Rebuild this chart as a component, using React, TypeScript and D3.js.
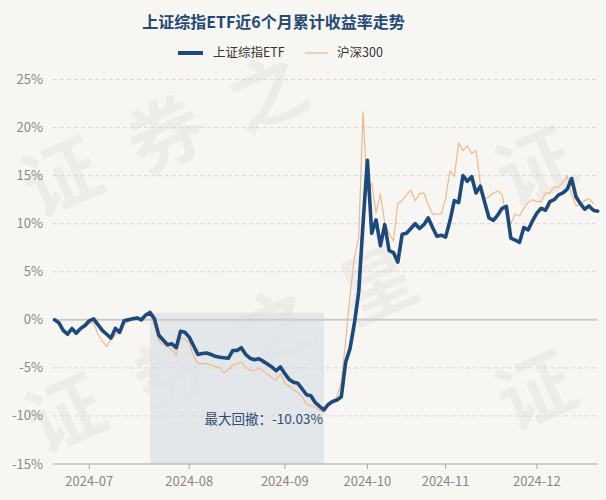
import React from 'react';
import * as d3 from 'd3';

const W = 606;
const H = 500;
const title = '上证综指ETF近6个月累计收益率走势';
const seriesNames = ['上证综指ETF', '沪深300'];
const yTicks = [25, 20, 15, 10, 5, 0, -5, -10, -15];
const monthLabels = ['2024-07', '2024-08', '2024-09', '2024-10', '2024-11', '2024-12'];
const startDate = '2024-06-19';
const endDate = '2024-12-20';
const holidays = ['2024-09-16', '2024-09-17', '2024-10-01', '2024-10-02', '2024-10-03', '2024-10-04', '2024-10-07'];
const drawdownLabel = '最大回撤：';
const watermarkChars = ['证', '券', '之', '星'];

// 上证综指ETF cumulative return (%)
const etf = [
  0.0, -0.3, -1.1, -1.5, -0.9, -1.4, -0.9, -0.6, -0.1, 0.1,
  -0.5, -1.1, -1.5, -1.9, -0.9, -1.3, -0.1, 0.0, 0.1, 0.2,
  0.0, 0.5, 0.75, 0.1, -1.6, -2.1, -2.6, -2.5, -2.9, -1.2,
  -1.3, -1.8, -2.7, -3.6, -3.5, -3.45, -3.6, -3.8, -3.9, -3.95,
  -4.0, -3.2, -3.2, -2.9, -3.6, -4.0, -4.15, -4.05, -4.3, -4.6,
  -4.9, -5.3, -4.9, -5.6, -6.2, -6.5, -6.6, -7.2, -7.8, -7.9,
  -8.6, -9.0, -9.36, -8.8, -8.5, -8.35, -8.0, -4.4, -3.0, -0.4,
  2.9, 10.0, 16.6, 9.0, 10.4, 7.7, 9.9, 7.2, 7.0, 6.0,
  8.9, 9.0, 9.5, 10.0, 9.5, 9.9, 10.6, 9.6, 8.7, 8.8,
  8.6, 10.3, 12.4, 12.2, 15.0, 14.4, 14.9, 13.2, 13.9, 12.2,
  10.6, 10.35, 10.9, 11.6, 11.8, 8.5, 8.3, 8.05, 9.6, 9.35,
  10.3, 11.1, 11.6, 11.4, 12.3, 12.5, 13.0, 13.2, 13.6, 14.7,
  12.8, 12.1, 11.5, 11.85, 11.4, 11.3,
];

// 沪深300 cumulative return (%)
const hs300 = [
  0.0, -0.5, -1.2, -1.3, -1.0, -1.3, -0.9, -0.8, -0.4, -0.3,
  -1.5, -2.2, -2.8, -2.0, -1.6, -1.1, -0.5, -0.2, 0.0, 0.2,
  0.1, 0.6, 1.0, -0.6, -2.1, -2.6, -2.8, -3.1, -3.7, -1.9,
  -2.0, -2.4, -3.8, -4.5, -4.55, -4.55, -4.7, -4.85, -5.0, -5.5,
  -5.2, -4.7, -4.55, -4.4, -4.9, -5.3, -5.3, -5.0, -5.3, -5.65,
  -6.0, -6.3, -5.6, -6.6, -6.9, -7.3, -7.55, -8.0, -8.8, -8.95,
  -9.1, -9.4, -9.6, -8.7, -8.6, -8.0, -6.5, -2.2, 2.5, 6.5,
  8.5, 21.6, 13.3, 14.2, 11.1, 13.1, 10.0, 9.0, 8.2, 12.1,
  12.4, 13.0, 13.5, 12.4, 13.1, 13.2, 12.0, 11.0, 11.0, 11.0,
  12.6, 15.5, 14.9, 18.4, 17.6, 18.1, 17.3, 17.6, 14.1, 12.6,
  12.8, 13.2, 13.4, 13.0, 10.7, 10.0, 11.0, 10.8, 11.6, 12.2,
  12.5, 12.3, 12.3, 13.2, 13.2, 13.8, 13.8, 14.3, 15.0, 13.0,
  11.9, 11.9, 12.4, 12.6, 12.1,
];

function tradingDays(): string[] {
  const out: string[] = [];
  const fmt = d3.utcFormat('%Y-%m-%d');
  const end = new Date(endDate + 'T00:00:00Z').getTime();
  for (let t = new Date(startDate + 'T00:00:00Z').getTime(); t <= end; t += 86400000) {
    const d = new Date(t);
    const wd = d.getUTCDay();
    const s = fmt(d);
    if (wd === 0 || wd === 6 || holidays.includes(s)) continue;
    out.push(s);
  }
  return out;
}

const FONT = '"Noto Sans CJK SC", "Noto Sans", sans-serif';

// watermark glyph placements: [char index, cx, cy]
const wmPlaces: [number, number, number][] = [
  [0, 62, 178],
  [1, 166, 136],
  [2, 268, 94],
  [0, 66, 415],
  [1, 172, 372],
  [2, 276, 328],
  [3, 378, 286],
  [0, 536, 168],
  [0, 536, 392],
];

export default function App() {
  const dates = tradingDays();
  const left = 54.5;
  const right = 597.7;
  const top = 79.5;
  const bottom = 464;
  const x = d3.scalePoint<string>().domain(dates).range([left, right]);
  const y = d3.scaleLinear().domain([-15, 25]).range([bottom, top]);

  const lineGen = d3
    .line<number>()
    .x((_, i) => x(dates[i]) as number)
    .y((d) => y(d));

  // max drawdown of ETF
  let peakI = 0;
  let best = 0;
  let bi = 0;
  let bj = 0;
  for (let j = 0; j < etf.length; j++) {
    if (etf[j] > etf[peakI]) peakI = j;
    const dd = (1 + etf[j] / 100) / (1 + etf[peakI] / 100) - 1;
    if (dd < best) {
      best = dd;
      bi = peakI;
      bj = j;
    }
  }
  const ddText = drawdownLabel + (best * 100).toFixed(2) + '%';
  const x0 = x(dates[bi]) as number;
  const x1 = x(dates[bj]) as number;

  const monthTicks = monthLabels.map((m) => {
    const d = dates.find((s) => s.startsWith(m)) as string;
    return { label: m, x: x(d) as number };
  });

  return (
    <svg
      width={W}
      height={H}
      style={{ position: 'absolute', left: 0, top: 0, display: 'block' }}
      fontFamily={FONT}
    >
      <rect x={0} y={0} width={W} height={H} fill="#f8f6f3" />
      {/* watermark */}
      <g fill="#000" fillOpacity={0.04} fontSize={76} fontWeight="bold" fontFamily={FONT}>
        {wmPlaces.map(([c, cx, cy], k) => (
          <text key={k} transform={`translate(${cx},${cy}) rotate(-24)`} textAnchor="middle" dy="0.35em">
            {watermarkChars[c]}
          </text>
        ))}
      </g>

      {/* drawdown shade */}
      <rect x={x0} y={y(etf[bi])} width={x1 - x0} height={bottom - y(etf[bi])} fill="#dfe4e8" fillOpacity={0.85} />

      {/* grid */}
      {yTicks.map((t) =>
        t === -15 ? null : (
          <line
            key={t}
            x1={53}
            x2={right}
            y1={y(t)}
            y2={y(t)}
            stroke={t === 0 ? '#cfcbc7' : '#d9d5d1'}
            strokeWidth={t === 0 ? 2 : 1}
            strokeDasharray={t === 0 ? undefined : '4 3'}
          />
        )
      )}
      {/* x axis */}
      <line x1={53} x2={right} y1={bottom} y2={bottom} stroke="#a9a6a3" strokeWidth={1} />
      {monthTicks.map((m) => (
        <g key={m.label}>
          <line x1={m.x} x2={m.x} y1={bottom} y2={bottom + 5} stroke="#a9a6a3" />
          <text x={m.x} y={486} textAnchor="middle" fontSize={13} fill="#8a8785">
            {m.label}
          </text>
        </g>
      ))}
      {/* y labels */}
      {yTicks.map((t) => (
        <text key={t} x={43} y={y(t)} dy="0.35em" textAnchor="end" fontSize={13} fill="#8a8785">
          {t + '%'}
        </text>
      ))}

      {/* lines */}
      <path d={lineGen(hs300) as string} fill="none" stroke="#efb98c" strokeWidth={1.2} strokeLinejoin="round" />
      <path d={lineGen(etf) as string} fill="none" stroke="#1d4a7c" strokeWidth={3.6} strokeLinejoin="round" strokeLinecap="round" />

      {/* drawdown label */}
      <text x={x1 - 1} y={y(etf[bj]) + 9} dy="0.35em" textAnchor="end" fontSize={13.5} fill="#2f4d72">
        {ddText}
      </text>

      {/* title */}
      <text x={273.5} y={28} textAnchor="middle" fontSize={16} fontWeight="bold" fill="#234a76">
        {title}
      </text>

      {/* legend */}
      <line x1={178} x2={203} y1={53} y2={53} stroke="#1d4a7c" strokeWidth={4} />
      <text x={213} y={53} dy="0.35em" fontSize={12.5} fill="#333">
        {seriesNames[0]}
      </text>
      <line x1={305} x2={328} y1={53} y2={53} stroke="#efb98c" strokeWidth={1.2} />
      <text x={337} y={53} dy="0.35em" fontSize={12.5} fill="#333">
        {seriesNames[1]}
      </text>
    </svg>
  );
}
